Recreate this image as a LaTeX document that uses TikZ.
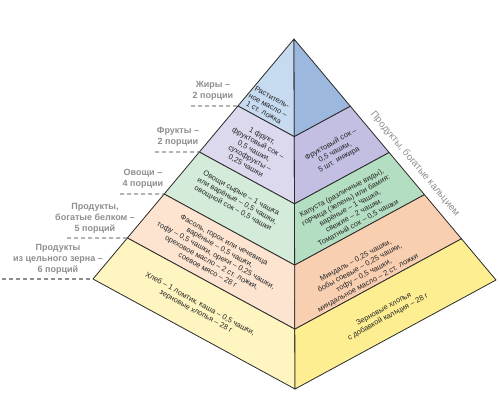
\documentclass[tikz,border=0pt]{standalone}
\usepackage{fontspec}
\setmainfont{Liberation Sans}
\usetikzlibrary{calc}
\definecolor{fatL}{HTML}{C6DBF0}
\definecolor{fatR}{HTML}{9CB8DE}
\definecolor{fruL}{HTML}{DCD9EE}
\definecolor{fruR}{HTML}{C2BFE2}
\definecolor{vegL}{HTML}{D4EBDA}
\definecolor{vegR}{HTML}{B4DEC1}
\definecolor{proL}{HTML}{FDE4D0}
\definecolor{proR}{HTML}{F9CFB2}
\definecolor{graL}{HTML}{FEF5C0}
\definecolor{graR}{HTML}{FDEE91}
\definecolor{lbl}{HTML}{8E8E8E}
\definecolor{edge}{HTML}{2A2A2A}
\begin{document}
\begin{tikzpicture}[x=1pt,y=-1pt,
  face/.style={draw=edge,line width=0.8pt,line join=round},
  grouplabel/.style={text=lbl,font=\fontsize{9}{11}\selectfont\bfseries,align=center,inner sep=0pt},
  dashline/.style={draw=lbl,line width=1.3pt,dash pattern=on 4pt off 3pt},
  lefttext/.style={font=\fontsize{7.5}{8.6}\selectfont,text=black!85,align=center,inner sep=0pt,rotate=-28.6},
  righttext/.style={font=\fontsize{7.5}{8.6}\selectfont,text=black!85,align=center,inner sep=0pt,rotate=28.6}]
\useasboundingbox (0,0) rectangle (500,402);
\coordinate (A) at (294,39);
\coordinate (L5) at (93,279);
\coordinate (C5) at (295,389);
\coordinate (R5) at (496,280);
\foreach \i/\t in {1/0.279,2/0.471,3/0.646,4/0.829}{
  \coordinate (L\i) at ($(A)!\t!(L5)$);
  \coordinate (C\i) at ($(A)!\t!(C5)$);
  \coordinate (R\i) at ($(A)!\t!(R5)$);
}
% faces
\filldraw[face,fill=fatL] (A) -- (L1) -- (C1) -- cycle;
\filldraw[face,fill=fatR] (A) -- (C1) -- (R1) -- cycle;
\filldraw[face,fill=fruL] (L1) -- (C1) -- (C2) -- (L2) -- cycle;
\filldraw[face,fill=fruR] (C1) -- (R1) -- (R2) -- (C2) -- cycle;
\filldraw[face,fill=vegL] (L2) -- (C2) -- (C3) -- (L3) -- cycle;
\filldraw[face,fill=vegR] (C2) -- (R2) -- (R3) -- (C3) -- cycle;
\filldraw[face,fill=proL] (L3) -- (C3) -- (C4) -- (L4) -- cycle;
\filldraw[face,fill=proR] (C3) -- (R3) -- (R4) -- (C4) -- cycle;
\filldraw[face,fill=graL] (L4) -- (C4) -- (C5) -- (L5) -- cycle;
\filldraw[face,fill=graR] (C4) -- (R4) -- (R5) -- (C5) -- cycle;
% dashed leaders
\coordinate (D1) at (191,106);
\coordinate (D2) at (155,152);
\coordinate (D3) at (120,194);
\coordinate (D4) at (67,238);
\coordinate (D5) at (2,279);
\foreach \i in {1,...,5}{\draw[dashline] (D\i) -- (L\i);}
% group labels
\node[grouplabel] (g1) at (213,91) {Жиры –\\2 порции};
\node[grouplabel] (g2) at (178,137) {Фрукты –\\2 порции};
\node[grouplabel] (g3) at (143,179) {Овощи –\\4 порции};
\node[grouplabel] (g4) at (95,218) {Продукты,\\богатые белком –\\5 порций};
\node[grouplabel] (g5) at (58,259) {Продукты\\из цельного зерна –\\6 порций};
% calcium label
\node[text=lbl,font=\fontsize{9.8}{11}\selectfont,rotate=-50.2,inner sep=0pt] (ca) at (415,164) {Продукты, богатые кальцием};
% face texts
\node[lefttext] (t1) at (268,105) {Раститель-\\ное масло –\\1 ст. ложка};
\node[lefttext] (t2) at (254,151) {1 фрукт,\\фруктовый сок –\\0,5 чашки,\\сухофрукты –\\0,25 чашки};
\node[righttext] (t3) at (335,152) {Фруктовый сок –\\0,5 чашки,\\5 шт. инжира};
\node[lefttext] (t4) at (237,201) {Овощи сырые – 1 чашка\\или варёные – 0,5 чашки,\\овощной сок – 0,5 чашки};
\node[righttext] (t5) at (350,208) {Капуста (различные виды),\\горчица (зелень) или бамия:\\варёные – 1 чашка,\\свежие – 2 чашки.\\Томатный сок – 0,5 чашки};
\node[lefttext] (t6) at (216,255) {Фасоль, горох или чечевица\\варёные – 0,5 чашки,\\тофу – 0,5 чашки, орехи – 0,25 чашки,\\ореховое масло – 2 ст. ложки,\\соевое мясо – 28 г};
\node[righttext] (t7) at (362,272) {Миндаль – 0,25 чашки,\\бобы соевые – 0,25 чашки,\\тофу – 0,5 чашки,\\миндальное масло – 2 ст. ложки};
\node[lefttext] (t8) at (198,308) {Хлеб – 1 ломтик, каша – 0,5 чашки,\\зерновые хлопья – 28 г};
\node[righttext] (t9) at (386,313) {Зерновые хлопья\\с добавкой кальция – 28 г};
\end{tikzpicture}
\end{document}
